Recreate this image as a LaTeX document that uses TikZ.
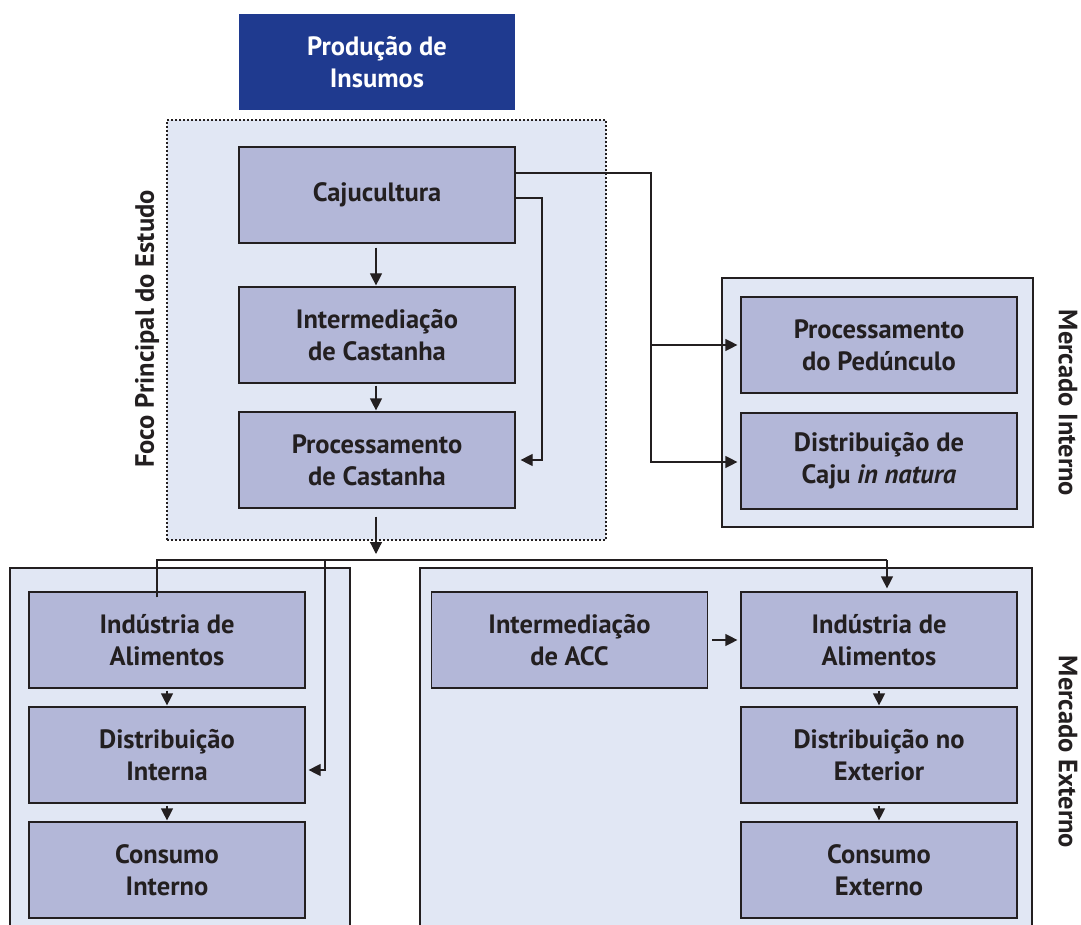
\documentclass[tikz,border=0pt]{standalone}
\usepackage{fontspec}
\setmainfont{PT Sans}
\usetikzlibrary{arrows.meta}
\definecolor{navy}{HTML}{1F3A8F}
\definecolor{boxfill}{HTML}{B3B7D8}
\definecolor{panelfill}{HTML}{E1E7F4}
\definecolor{ink}{HTML}{231F20}
\tikzset{
  box/.style={draw=ink, line width=1.2pt, fill=boxfill, minimum width=276pt, minimum height=96pt,
    align=center, font=\fontsize{26.5}{32}\selectfont\bfseries, text=ink, inner sep=0pt},
  topbox/.style={fill=navy, minimum width=276pt, minimum height=96pt, align=center,
    font=\fontsize{26.5}{32}\selectfont\bfseries, text=white, inner sep=0pt},
  panel/.style={draw=ink, line width=1.2pt, fill=panelfill, inner sep=0pt},
  sidelabel/.style={font=\fontsize{26.5}{30}\selectfont\bfseries, text=ink, inner sep=0pt},
  conn/.style={draw=ink, line width=1.2pt},
  arr/.style={conn, -{Triangle[length=12pt,width=12pt]}},
}
\begin{document}
\begin{tikzpicture}[x=1pt,y=-1pt]
\useasboundingbox (0,0) rectangle (1081,925);
% panels
\node[panel, dash pattern=on 2pt off 2pt, minimum width=439pt, minimum height=420pt] (foco) at (386.5,330) {};
\node[panel, minimum width=311pt, minimum height=249pt] (mipanel) at (877.5,402.5) {};
\fill[panelfill] (10,568) rectangle (350,940);
\draw[conn] (10,940) -- (10,568) -- (350,568) -- (350,940);
\fill[panelfill] (420,568) rectangle (1032,940);
\draw[conn] (420,940) -- (420,568) -- (1032,568) -- (1032,940);
% boxes
\node[topbox] (insumos) at (377,62) {Produção de\\Insumos};
\node[box] (caju) at (377,195) {Cajucultura};
\node[box] (interm) at (377,335) {Intermediação\\de Castanha};
\node[box] (proc) at (377,460) {Processamento\\de Castanha};
\node[box] (ped) at (879,345) {Processamento\\do Pedúnculo};
\node[box] (natura) at (879,461) {Distribuição de\\Caju \textit{in natura}};
\node[box] (indL) at (167,640) {Indústria de\\Alimentos};
\node[box] (distI) at (167,755) {Distribuição\\Interna};
\node[box] (consI) at (167,870) {Consumo\\Interno};
\node[box] (acc) at (569.5,640) {Intermediação\\de ACC};
\node[box] (indR) at (879,640) {Indústria de\\Alimentos};
\node[box] (distE) at (879,755) {Distribuição no\\Exterior};
\node[box] (consE) at (879,870) {Consumo\\Externo};
% side labels
\node[sidelabel, rotate=90] (focolbl) at (147,329) {Foco Principal do Estudo};
\node[sidelabel, rotate=-90] (milbl) at (1068,403) {Mercado Interno};
\node[sidelabel, rotate=-90] (melbl) at (1068,752) {Mercado Externo};
% vertical arrows in chain
\draw[arr, shorten <=4pt, shorten >=1pt] ([xshift=-1pt]caju.south) -- ([xshift=-1pt]interm.north);
\draw[arr, shorten <=2pt, shorten >=1pt] ([xshift=-1pt]interm.south) -- ([xshift=-1pt]proc.north);
\coordinate (bus) at (376,560);
\draw[arr, shorten <=8pt, shorten >=6pt] ([xshift=-1pt]proc.south) -- (bus);
% bus line
\coordinate (busL) at (157,560);
\coordinate (busR) at (887,560);
\draw[conn] ([xshift=-10pt,yshift=-6pt]indL.north) -- (busL) -- (busR);
\draw[arr, shorten >=3pt] (busR) -- ([xshift=8pt]indR.north);
\coordinate (busD) at (325,560);
\draw[arr, shorten >=3pt] (busD) |- ([yshift=-15pt]distI.east);
% left market chain
\draw[arr, shorten <=2pt, shorten >=1pt] (indL.south) -- (distI.north);
\draw[arr, shorten <=2pt, shorten >=1pt] (distI.south) -- (consI.north);
% right market chain
\draw[arr, shorten <=2pt, shorten >=1pt] (indR.south) -- (distE.north);
\draw[arr, shorten <=2pt, shorten >=1pt] (distE.south) -- (consE.north);
\draw[arr, shorten <=4pt, shorten >=3pt] (acc.east) -- (indR.west);
% cajucultura to mercado interno
\coordinate (mi1) at (651,173);
\draw[conn] ([yshift=22pt]caju.east) -- (mi1) |- ([yshift=-1pt,xshift=-4pt]natura.west);
\draw[arr] ([yshift=-1pt,xshift=-20pt]natura.west) -- ([yshift=-1pt,xshift=-3pt]natura.west);
\draw[arr, shorten >=3pt] (651,345) -- (ped.west);
% cajucultura to processamento
\coordinate (pc1) at (542,198);
\draw[arr, shorten >=5pt] ([yshift=-3pt]caju.east) -- (pc1) |- (proc.east);
\end{tikzpicture}
\end{document}
